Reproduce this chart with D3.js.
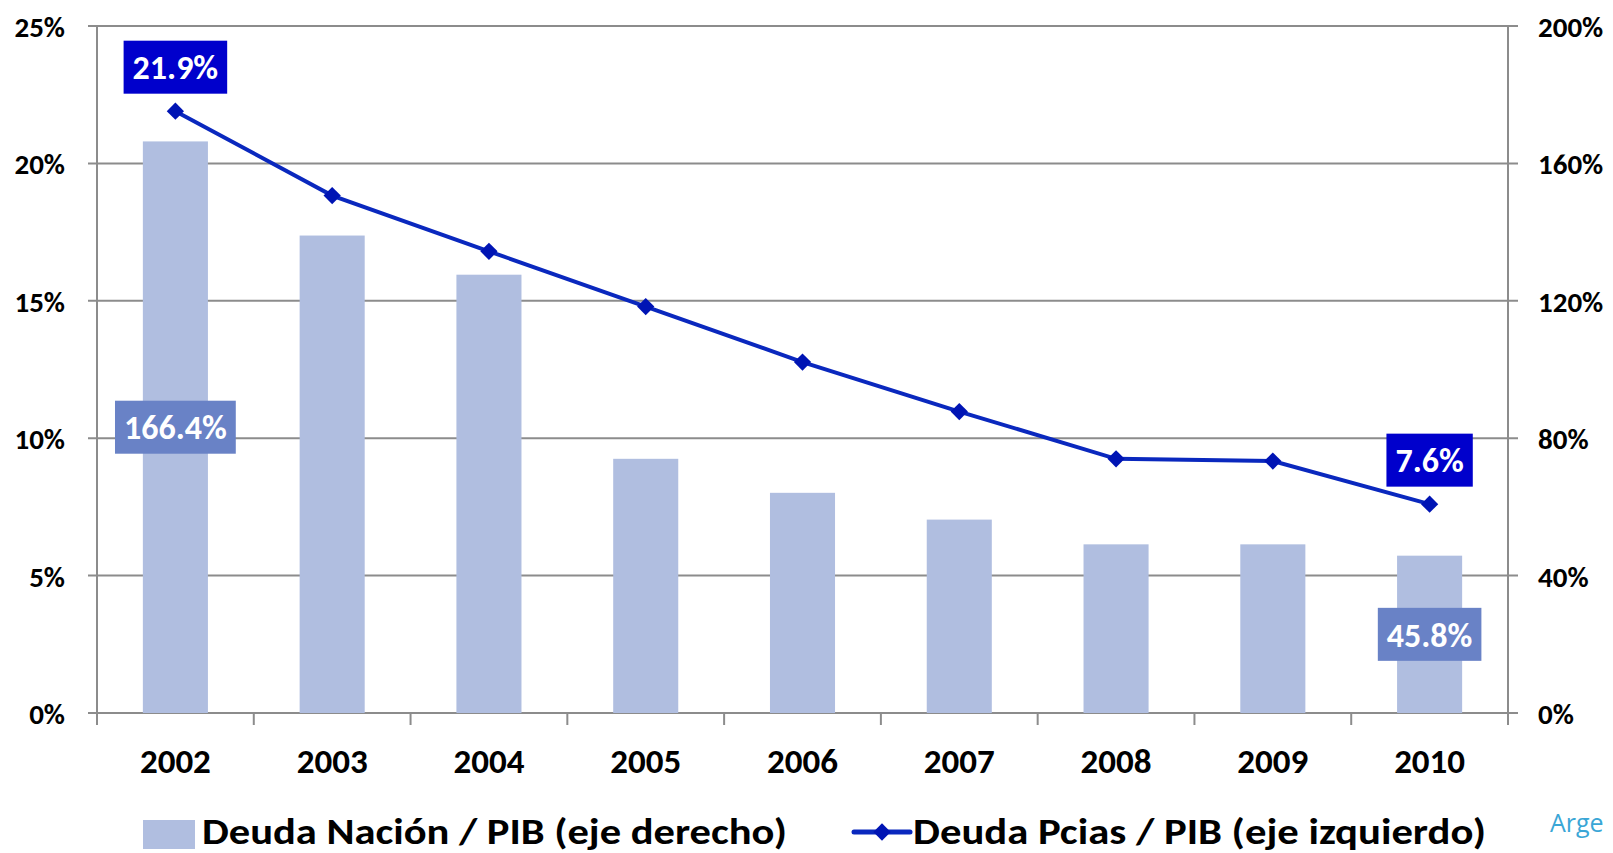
<!DOCTYPE html>
<html>
<head>
<meta charset="utf-8">
<script src="https://cdn.jsdelivr.net/npm/d3@7"></script>
<style>
  body { margin: 0; background: #fff; }
  svg text { font-family: Carlito, Calibri, Lato, sans-serif; font-weight: bold; }
</style>
</head>
<body>
<div id="container"></div>
<script>
// data
var years = ["2002", "2003", "2004", "2005", "2006", "2007", "2008", "2009", "2010"];
var deuda_nacion = [1.664, 1.390, 1.276, 0.740, 0.641, 0.563, 0.491, 0.491, 0.458]; // right axis
var deuda_pcias = [0.219, 0.1883, 0.168, 0.1479, 0.1277, 0.1097, 0.0925, 0.0917, 0.076]; // left axis
var left_ticks = [0, 0.05, 0.10, 0.15, 0.20, 0.25];
var right_ticks = [0, 0.4, 0.8, 1.2, 1.6, 2.0];
var labelled = [0, 8]; // first and last point get a label
var legend_names = ["Deuda Nación / PIB (eje derecho)", "Deuda Pcias / PIB (eje izquierdo)"];

var W = 1613, H = 853;
var m = {left: 97, right: 1508, top: 26, bottom: 713};

var svg = d3.select("#container").append("svg")
    .attr("width", W).attr("height", H);

var x = d3.scaleBand().domain(years)
    .range([m.left, m.right])
    .paddingInner(0.585).paddingOuter(0.2925);
var yL = d3.scaleLinear().domain([0, 0.25]).range([m.bottom, m.top]);
var yR = d3.scaleLinear().domain([0, 2]).range([m.bottom, m.top]);
var step = x.step();
var cx = function(d){ return x(d) + x.bandwidth() / 2; };

var grey = "#8c8c8c";

// gridlines (stick out a bit past both axes, like tick marks)
svg.append("g").selectAll("line").data(left_ticks).enter().append("line")
    .attr("x1", m.left - 9).attr("x2", m.right + 10)
    .attr("y1", function(d){ return yL(d); })
    .attr("y2", function(d){ return yL(d); })
    .attr("stroke", grey).attr("stroke-width", 2);

// bars
svg.append("g").selectAll("rect").data(deuda_nacion).enter().append("rect")
    .attr("x", function(d, i){ return x(years[i]); })
    .attr("width", x.bandwidth())
    .attr("y", function(d){ return yR(d); })
    .attr("height", function(d){ return yR(0) - yR(d); })
    .attr("fill", "#b0bee0");

// axis lines
svg.append("line").attr("x1", m.left).attr("x2", m.left)
    .attr("y1", m.top).attr("y2", m.bottom + 12)
    .attr("stroke", grey).attr("stroke-width", 2);
svg.append("line").attr("x1", m.right).attr("x2", m.right)
    .attr("y1", m.top).attr("y2", m.bottom + 12)
    .attr("stroke", grey).attr("stroke-width", 2);

// category separators below the axis
var bounds = years.slice(1).map(function(d){ return x(d) - step * x.paddingInner() / 2; });
svg.append("g").selectAll("line").data(bounds).enter().append("line")
    .attr("x1", function(d){ return d; }).attr("x2", function(d){ return d; })
    .attr("y1", m.bottom).attr("y2", m.bottom + 12)
    .attr("stroke", grey).attr("stroke-width", 2);

// axis labels
var fmt = d3.format(".0%");
var axL = svg.append("g").attr("transform", "translate(" + (m.left - 9) + ",0)")
    .call(d3.axisLeft(yL).tickValues(left_ticks).tickFormat(fmt).tickSize(0).tickPadding(23));
var axR = svg.append("g").attr("transform", "translate(" + (m.right + 10) + ",0)")
    .call(d3.axisRight(yR).tickValues(right_ticks).tickFormat(fmt).tickSize(0).tickPadding(20));
var axX = svg.append("g").attr("transform", "translate(0," + m.bottom + ")")
    .call(d3.axisBottom(x).tickSize(0).tickPadding(0));
[axL, axR, axX].forEach(function(a){
    a.select(".domain").remove();
    a.selectAll("text").attr("fill", "#000");
});
axL.selectAll("text").style("font-size", "29px").attr("dy", "0.36em");
axR.selectAll("text").style("font-size", "29px").attr("dy", "0.36em");
axX.selectAll("text").style("font-size", "35px").attr("y", 60).attr("dy", null);

// line series
var line = d3.line()
    .x(function(d, i){ return cx(years[i]); })
    .y(function(d){ return yL(d); });
svg.append("path").datum(deuda_pcias)
    .attr("d", line)
    .attr("fill", "none")
    .attr("stroke", "#0a28be")
    .attr("stroke-width", 4);

var diamond = d3.symbol().type(d3.symbolDiamond2).size(190);
svg.append("g").selectAll("path").data(deuda_pcias).enter().append("path")
    .attr("d", diamond)
    .attr("transform", function(d, i){ return "translate(" + cx(years[i]) + "," + yL(d) + ")"; })
    .attr("fill", "#0014b4");

// data labels in boxes
var box_label = function(txt, px, py, fill){
    var g = svg.append("g");
    var r = g.append("rect").attr("fill", fill);
    var t = g.append("text")
        .attr("x", px).attr("y", py).attr("dy", "0.36em")
        .attr("text-anchor", "middle")
        .attr("fill", "#fff")
        .style("font-size", "34px")
        .text(txt);
    var w = t.node().getComputedTextLength() + 18;
    r.attr("x", px - w / 2).attr("y", py - 26.5)
        .attr("width", w).attr("height", 53);
};
var pct1 = d3.format(".1%");
labelled.forEach(function(i){
    box_label(pct1(deuda_nacion[i]), cx(years[i]), (yR(deuda_nacion[i]) + yR(0)) / 2, "#6982c6");
    box_label(pct1(deuda_pcias[i]), cx(years[i]), yL(deuda_pcias[i]) - 44, "#0000cc");
});

// legend
var leg = svg.append("g");
leg.append("rect").attr("x", 143).attr("y", 820).attr("width", 52).attr("height", 29)
    .attr("fill", "#b0bee0");
leg.append("text").attr("x", 202).attr("y", 844)
    .style("font-size", "37px").attr("textLength", 585).attr("lengthAdjust", "spacingAndGlyphs")
    .text(legend_names[0]);
leg.append("line").attr("x1", 854).attr("x2", 910).attr("y1", 832).attr("y2", 832)
    .attr("stroke", "#0a28be").attr("stroke-width", 5).attr("stroke-linecap", "round");
leg.append("path").attr("d", diamond).attr("transform", "translate(882,832)")
    .attr("fill", "#0014b4");
leg.append("text").attr("x", 913).attr("y", 844)
    .style("font-size", "37px").attr("textLength", 573).attr("lengthAdjust", "spacingAndGlyphs")
    .text(legend_names[1]);

// logo fragment at the right edge
svg.append("text").attr("x", 1550).attr("y", 832)
    .style("font-size", "25px").style("font-weight", "normal")
    .style("font-family", "'Open Sans', sans-serif")
    .attr("fill", "#3aa6d6")
    .text("Arge");
</script>
</body>
</html>
